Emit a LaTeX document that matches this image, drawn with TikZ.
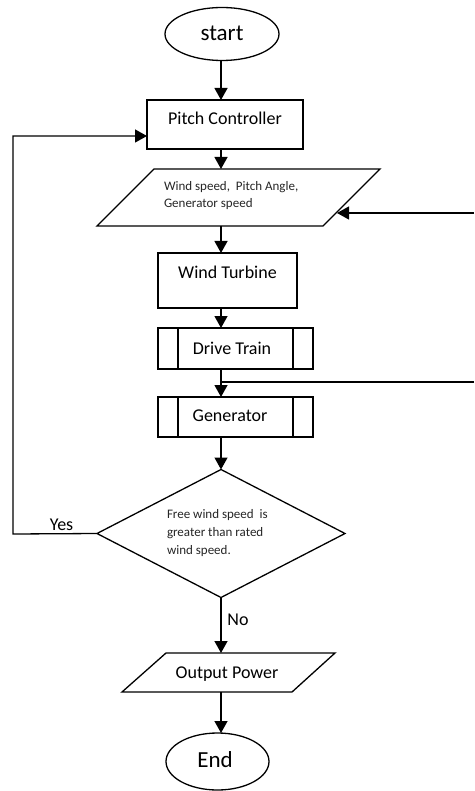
\documentclass[tikz,border=0pt]{standalone}
\usepackage{fontspec}
\setmainfont{Carlito}
\usetikzlibrary{shapes.geometric,arrows.meta}
\begin{document}
\begin{tikzpicture}[x=1pt,y=-1pt,
  every node/.style={inner sep=0pt,outer sep=0pt},
  shp/.style={draw=black,line width=1.3pt,fill=white},
  boxed/.style={shp,rectangle},
  oval/.style={shp,ellipse},
  dia/.style={shp,diamond},
  bigtxt/.style={font=\fontsize{18}{22}\selectfont},
  hugetxt/.style={font=\fontsize{23}{27}\selectfont},
  smalltxt/.style={font=\fontsize{13}{17}\selectfont,text=black!85,align=left},
  arr/.style={line width=1.3pt,-{Triangle[length=12pt,width=13pt]}},
  ln/.style={line width=1.3pt}]
\useasboundingbox (0,0) rectangle (474,791);
\coordinate (col) at (221,0);
% nodes
\node[oval,minimum width=114,minimum height=53] (start) at (222,34) {};
\node[hugetxt] (starttxt) at (222,33) {start};
\node[boxed,minimum width=156,minimum height=49] (pc) at (225,124.5) {};
\node[bigtxt] (pctxt) at (225,118) {Pitch Controller};
% input parallelogram
\coordinate (parTL) at (154,169);
\coordinate (parTR) at (380,169);
\coordinate (parBR) at (323,226);
\coordinate (parBL) at (97,226);
\draw[shp,line join=miter] (parTL) -- (parTR) -- (parBR) -- (parBL) -- cycle;
\coordinate (parN) at (221,169);
\coordinate (parS) at (221,226);
\coordinate (parE) at (337,213);
\node[smalltxt,anchor=west] (partxt) at (164,195.5) {Wind speed,\ \ Pitch Angle,\\Generator speed};
\node[boxed,minimum width=139,minimum height=55] (wt) at (227.5,280.5) {};
\node[bigtxt] (wttxt) at (227.5,272) {Wind Turbine};
\node[boxed,minimum width=155,minimum height=41] (dt) at (235.5,348.5) {};
\node[bigtxt] (dttxt) at (232,348) {Drive Train};
\draw[ln] ([xshift=20pt]dt.north west) -- ([xshift=20pt]dt.south west);
\draw[ln] ([xshift=-20pt]dt.north east) -- ([xshift=-20pt]dt.south east);
\node[boxed,minimum width=155,minimum height=40] (gen) at (235.5,417) {};
\node[bigtxt] (gentxt) at (230,416) {Generator};
\draw[ln] ([xshift=20pt]gen.north west) -- ([xshift=20pt]gen.south west);
\draw[ln] ([xshift=-20pt]gen.north east) -- ([xshift=-20pt]gen.south east);
\node[dia,minimum width=248,minimum height=128] (dec) at (221,533.5) {};
\node[smalltxt,anchor=west,font=\fontsize{13}{18}\selectfont] (dectxt) at (167,533) {Free wind speed\ \ is\\greater than rated\\wind speed.};
% output parallelogram
\coordinate (outTL) at (166,653);
\coordinate (outTR) at (335,653);
\coordinate (outBR) at (292,692);
\coordinate (outBL) at (122,692);
\draw[shp,line join=miter] (outTL) -- (outTR) -- (outBR) -- (outBL) -- cycle;
\coordinate (outN) at (221,653);
\coordinate (outS) at (221,692);
\node[bigtxt] (outtxt) at (227,674) {Output Power};
\node[oval,minimum width=103,minimum height=57] (end) at (217.5,761.5) {};
\node[hugetxt] (endtxt) at (215,760) {End};
% labels
\node[bigtxt] (yes) at (61.5,525) {Yes};
\node[bigtxt] (no) at (238,620) {No};
% connectors
\draw[arr] (col |- start.south) -- (col |- pc.north);
\draw[arr] (col |- pc.south) -- (parN);
\draw[arr] (parS) -- (col |- wt.north);
\draw[arr] (col |- wt.south) -- (col |- dt.north);
\draw[arr] (col |- dt.south) -- (col |- gen.north);
\draw[arr] (col |- gen.south) -- (dec.north);
\draw[arr] (dec.south) -- (outN);
\draw[arr] (outS) -- (col |- end.north);
\coordinate (lft) at (13,534);
\draw[arr] (dec.west) -- (lft) |- ([yshift=-11.5pt]pc.west);
\coordinate (r1) at (474,213);
\draw[arr] (r1) -- (parE);
\coordinate (r2) at (474,382);
\draw[ln] (r2) -- (col |- r2);
\end{tikzpicture}
\end{document}
